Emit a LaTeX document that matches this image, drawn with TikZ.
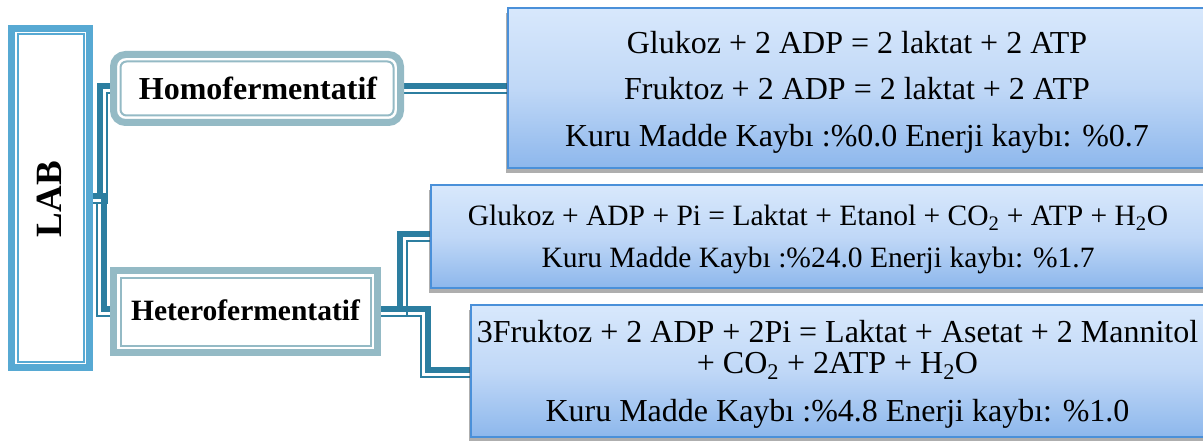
\documentclass[tikz,border=0pt]{standalone}
\usepackage{fontspec}
\setmainfont{Liberation Serif}
\usetikzlibrary{calc,shadows,backgrounds}
\definecolor{labblue}{RGB}{87,169,211}
\definecolor{boxline}{RGB}{148,186,197}
\definecolor{conn}{RGB}{44,126,160}
\definecolor{resline}{RGB}{74,144,217}
\definecolor{restop}{RGB}{216,232,252}
\definecolor{resmid}{RGB}{192,216,247}
\definecolor{resbot}{RGB}{141,183,236}
\begin{document}
\begin{tikzpicture}[x=1pt,y=-1pt,
  every node/.style={outer sep=0pt, inner sep=0pt},
  labbox/.style={draw=labblue, line width=7pt, fill=white},
  labinner/.style={draw=labblue, line width=2pt},
  typebox/.style={draw=boxline, line width=7pt, fill=white},
  typeinner/.style={draw=boxline, line width=2pt},
  resbox/.style={draw=resline, line width=2pt, top color=restop, bottom color=resbot, middle color=resmid,
     drop shadow={shadow xshift=-2pt, shadow yshift=-5pt, opacity=0.45, fill=black!70}},
  restext/.style={align=center, text=black},
  conthick/.style={draw=conn, line width=5.5pt},
  conthin/.style={draw=conn, line width=1.8pt},
]
\useasboundingbox (0,0) rectangle (1203,441);

% LAB
\node[labbox, minimum width=78pt, minimum height=339pt] (lab) at (50.5,198) {};
\draw[labinner] ($(lab.north west)+(6.5,5.5)$) rectangle ($(lab.south east)+(-6,-6)$);
\node[rotate=90, font=\bfseries\fontsize{37}{40}\selectfont] (labtext) at ($(lab.center)+(-1,1)$) {LAB};

% type boxes
\node[typebox, rounded corners=12pt, minimum width=287pt, minimum height=68pt] (homo) at (257,88.5) {};
\draw[typeinner, rounded corners=6pt] ($(homo.north west)+(7,7)$) rectangle ($(homo.south east)+(-7,-7)$);
\node[font=\bfseries\fontsize{32}{36}\selectfont] (homotext) at ($(homo.center)+(1,0)$) {Homofermentatif};

\node[typebox, minimum width=264pt, minimum height=82pt] (het) at (245.5,311.5) {};
\draw[typeinner] ($(het.north west)+(7,7)$) rectangle ($(het.south east)+(-7,-7)$);
\node[font=\bfseries\fontsize{29.5}{34}\selectfont] (hettext) at ($(het.center)+(0,-1)$) {Heterofermentatif};

% result boxes (they run past the right edge of the picture)
\node[resbox, minimum width=712pt, minimum height=160pt] (b1) at (864,88) {};
\node[restext, font=\fontsize{32}{46.5}\selectfont] (t1) at ($(b1.center)+(-7,4)$)
  {Glukoz + 2 ADP = 2 laktat + 2 ATP\\Fruktoz + 2 ADP = 2 laktat + 2 ATP\\Kuru Madde Kaybı :\%0.0 Enerji kaybı: \%0.7};

\node[resbox, minimum width=789pt, minimum height=103pt] (b2) at (825.5,236.5) {};
\node[restext, font=\fontsize{29.5}{42}\selectfont] (t2) at ($(b2.center)+(-7.5,2.5)$)
  {Glukoz + ADP + Pi = Laktat + Etanol + CO\textsubscript{2} + ATP + H\textsubscript{2}O\\Kuru Madde Kaybı :\%24.0 Enerji kaybı: \%1.7};

\node[resbox, minimum width=749pt, minimum height=132pt] (b3) at (845.5,371) {};
\node[restext, font=\fontsize{32}{31}\selectfont] (t3) at ($(b3.center)+(-8,3.5)$)
  {3Fruktoz + 2 ADP + 2Pi = Laktat + Asetat + 2 Mannitol\\+ CO\textsubscript{2} + 2ATP + H\textsubscript{2}O\\[17pt]Kuru Madde Kaybı :\%4.8 Enerji kaybı: \%1.0};

% connectors
\begin{scope}[on background layer]
\draw[conthick] ($(lab.east)+(0,-2)$) -- ++(10.5,0) |- ($(homo.west)+(0,-2.5)$);
\draw[conthin] ($(lab.east)+(0,5)$) -- ++(17.5,0) |- ($(homo.west)+(0,4.5)$);
\draw[conthick] ($(lab.east)+(0,-2)$) -- ++(14.5,0) |- ($(het.west)+(0,-2.5)$);
\draw[conthin] ($(lab.east)+(0,5)$) -- ++(7.5,0) |- ($(het.west)+(0,4.5)$);
\draw[conthick] ($(homo.east)+(0,-2.5)$) -- ($(homo.east -| b1.west)+(0,-2.5)$);
\draw[conthin] ($(homo.east)+(0,4.5)$) -- ($(homo.east -| b1.west)+(0,4.5)$);
\draw[conthick] ($(het.east)+(0,-2.5)$) -- ++(22.5,0) |- ($(b2.west)+(0,-2.5)$);
\draw[conthin] ($(het.east)+(0,4.5)$) -- ++(29.5,0) |- ($(b2.west)+(0,4.5)$);
\draw[conthick] ($(het.east)+(0,-2.5)$) -- ++(50.5,0) |- ($(b3.west)+(0,-1)$);
\draw[conthin] ($(het.east)+(0,4.5)$) -- ++(43.5,0) |- ($(b3.west)+(0,6)$);
\end{scope}
\end{tikzpicture}
\end{document}
